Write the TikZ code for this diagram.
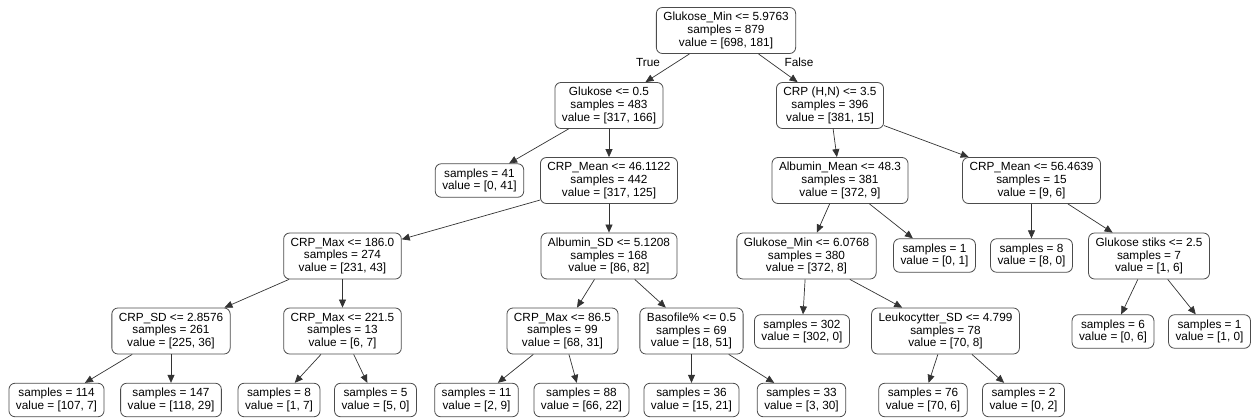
\documentclass[tikz,border=0pt]{standalone}
\usepackage{fontspec}
\setmainfont{Liberation Sans}
\usetikzlibrary{arrows.meta}

\begin{document}
\begin{tikzpicture}[x=1pt, y=-1pt,
    split/.style={rectangle, draw=black!70, line width=0.8pt, fill=white, rounded corners=6pt, align=center, inner xsep=7pt, minimum height=46pt, font=\fontsize{11.8}{12.7}\selectfont},
    leaf/.style={split, minimum height=33.5pt},
    arrow/.style={-{Triangle[length=8pt, width=7pt]}, draw=black!80, line width=0.7pt}
]
    \useasboundingbox (0,0) rectangle (1251,418);

    % Root
    \node[split] (root) at (726, 30.5) {Glukose\_Min <= 5.9763\\samples = 879\\value = [698, 181]};

    % Level 1
    \node[split] (glu) at (609, 105.5) {Glukose <= 0.5\\samples = 483\\value = [317, 166]};
    \node[split] (crphn) at (830, 105.5) {CRP (H,N) <= 3.5\\samples = 396\\value = [381, 15]};

    % Level 2
    \node[leaf] (leafA) at (479.5, 180.5) {samples = 41\\value = [0, 41]};
    \node[split] (crpmean) at (609, 180.5) {CRP\_Mean <= 46.1122\\samples = 442\\value = [317, 125]};
    \node[split] (albmean) at (840, 180.5) {Albumin\_Mean <= 48.3\\samples = 381\\value = [372, 9]};
    \node[split] (crpmeanb) at (1031.5, 180.5) {CRP\_Mean <= 56.4639\\samples = 15\\value = [9, 6]};

    % Level 3
    \node[split] (crpmax) at (342.5, 256) {CRP\_Max <= 186.0\\samples = 274\\value = [231, 43]};
    \node[split] (albsd) at (609, 256) {Albumin\_SD <= 5.1208\\samples = 168\\value = [86, 82]};
    \node[split] (glumin) at (806.5, 256) {Glukose\_Min <= 6.0768\\samples = 380\\value = [372, 8]};
    \node[leaf] (leafB) at (934.5, 255.5) {samples = 1\\value = [0, 1]};
    \node[leaf] (leafC) at (1031.5, 255.5) {samples = 8\\value = [8, 0]};
    \node[split] (stiks) at (1149, 256) {Glukose stiks <= 2.5\\samples = 7\\value = [1, 6]};

    % Level 4
    \node[split] (crpsd) at (171, 331) {CRP\_SD <= 2.8576\\samples = 261\\value = [225, 36]};
    \node[split] (crpmaxb) at (342.5, 331) {CRP\_Max <= 221.5\\samples = 13\\value = [6, 7]};
    \node[split] (crpmaxc) at (562.5, 331) {CRP\_Max <= 86.5\\samples = 99\\value = [68, 31]};
    \node[split] (baso) at (691.5, 331) {Basofile\% <= 0.5\\samples = 69\\value = [18, 51]};
    \node[leaf] (leafD) at (802, 331.5) {samples = 302\\value = [302, 0]};
    \node[split] (leuko) at (945.5, 331) {Leukocytter\_SD <= 4.799\\samples = 78\\value = [70, 8]};
    \node[leaf] (leafE) at (1113, 331.5) {samples = 6\\value = [0, 6]};
    \node[leaf] (leafF) at (1209.5, 331.5) {samples = 1\\value = [1, 0]};

    % Level 5: leaves
    \node[leaf] (leaf114) at (56.5, 400) {samples = 114\\value = [107, 7]};
    \node[leaf] (leaf147) at (171, 400) {samples = 147\\value = [118, 29]};
    \node[leaf] (leaf8) at (279, 400) {samples = 8\\value = [1, 7]};
    \node[leaf] (leaf5) at (375.5, 400) {samples = 5\\value = [5, 0]};
    \node[leaf] (leaf11) at (476.5, 400) {samples = 11\\value = [2, 9]};
    \node[leaf] (leaf88) at (581.5, 400) {samples = 88\\value = [66, 22]};
    \node[leaf] (leaf36) at (691.5, 400) {samples = 36\\value = [15, 21]};
    \node[leaf] (leaf33) at (801.5, 400) {samples = 33\\value = [3, 30]};
    \node[leaf] (leaf76) at (923, 400) {samples = 76\\value = [70, 6]};
    \node[leaf] (leaf2) at (1023.5, 400) {samples = 2\\value = [0, 2]};

    % Arrows from root
    \draw[arrow] (root) -- (glu);
    \draw[arrow] (root) -- (crphn);
    \node[font=\fontsize{11.8}{12.7}\selectfont] (truelbl) at (648, 62) {True};
    \node[font=\fontsize{11.8}{12.7}\selectfont] (falselbl) at (799, 62) {False};

    % Arrows, left half
    \draw[arrow] (glu) -- (leafA);
    \draw[arrow] (glu) -- (crpmean);
    \draw[arrow] (crpmean) -- (crpmax);
    \draw[arrow] (crpmean) -- (albsd);
    \draw[arrow] (crpmax) -- (crpsd);
    \draw[arrow] (crpmax) -- (crpmaxb);
    \draw[arrow] (albsd) -- (crpmaxc);
    \draw[arrow] (albsd) -- (baso);
    \draw[arrow] (crpsd) -- (leaf114);
    \draw[arrow] (crpsd) -- (leaf147);
    \draw[arrow] (crpmaxb) -- (leaf8);
    \draw[arrow] (crpmaxb) -- (leaf5);
    \draw[arrow] (crpmaxc) -- (leaf11);
    \draw[arrow] (crpmaxc) -- (leaf88);
    \draw[arrow] (baso) -- (leaf36);
    \draw[arrow] (baso) -- (leaf33);

    % Arrows, right half
    \draw[arrow] (crphn) -- (albmean);
    \draw[arrow] (crphn) -- (crpmeanb);
    \draw[arrow] (albmean) -- (glumin);
    \draw[arrow] (albmean) -- (leafB);
    \draw[arrow] (crpmeanb) -- (leafC);
    \draw[arrow] (crpmeanb) -- (stiks);
    \draw[arrow] (glumin) -- (leafD);
    \draw[arrow] (glumin) -- (leuko);
    \draw[arrow] (stiks) -- (leafE);
    \draw[arrow] (stiks) -- (leafF);
    \draw[arrow] (leuko) -- (leaf76);
    \draw[arrow] (leuko) -- (leaf2);
\end{tikzpicture}
\end{document}
